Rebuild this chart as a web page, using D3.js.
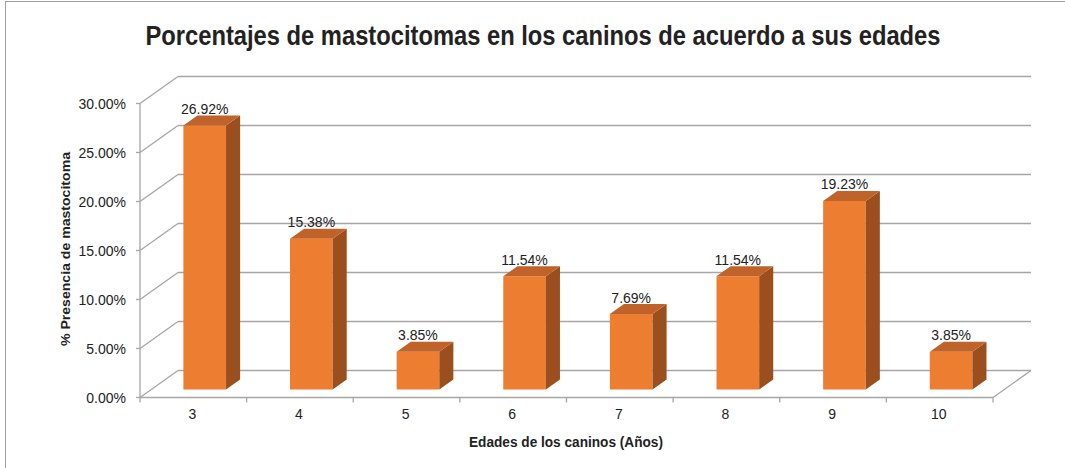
<!DOCTYPE html>
<html>
<head>
<meta charset="utf-8">
<script src="https://cdn.jsdelivr.net/npm/d3@7"></script>
<style>
  html, body { margin: 0; padding: 0; background: #fff; }
  svg { display: block; }
  text { font-family: "Liberation Sans", "Noto Sans", sans-serif; fill: #222; }
</style>
</head>
<body>
<svg id="chart" width="1065" height="468"></svg>
<script>
const categories = ["3", "4", "5", "6", "7", "8", "9", "10"];
const values = [26.92, 15.38, 3.85, 11.54, 7.69, 11.54, 19.23, 3.85];
const yTicks = [0, 5, 10, 15, 20, 25, 30];
const title = "Porcentajes de mastocitomas en los caninos de acuerdo a sus edades";
const yTitle = "% Presencia de mastocitoma";
const xTitle = "Edades de los caninos (Años)";

(function () {
const svg = d3.select("#chart");
const W = 1065, H = 468;

// chart border
svg.append("rect").attr("x", 5.5).attr("y", 1.5).attr("width", W + 10).attr("height", H + 10)
  .attr("fill", "#fff").attr("stroke", "#a0a0a0").attr("stroke-width", 1);

// plot geometry
const x0 = 140, x1 = 993;
const DX = 38, DY = -27;           // depth vector (front -> back wall)
const fFront = 0.3, fBack = 0.67;  // bar depth positions as fraction of depth

const x = d3.scaleBand().domain(categories).range([x0, x1]).paddingInner(0).paddingOuter(0);
const y = d3.scaleLinear().domain([0, 30]).range([397.5, 103.5]);

const gridColor = "#a6a6a6";
const g = svg.append("g");

// gridlines: slant on left wall + horizontal on back wall
yTicks.forEach(v => {
  const yy = y(v);
  g.append("line").attr("x1", x0).attr("y1", yy).attr("x2", x0 + DX).attr("y2", yy + DY)
    .attr("stroke", gridColor).attr("stroke-width", 1.3);
  g.append("line").attr("x1", x0 + DX).attr("y1", yy + DY).attr("x2", x1 + DX).attr("y2", yy + DY)
    .attr("stroke", gridColor).attr("stroke-width", 1.3);
});

// floor front edge and right edge
g.append("line").attr("x1", x0).attr("y1", y(0)).attr("x2", x1).attr("y2", y(0))
  .attr("stroke", gridColor).attr("stroke-width", 1.3);
g.append("line").attr("x1", x1).attr("y1", y(0)).attr("x2", x1 + DX).attr("y2", y(0) + DY)
  .attr("stroke", gridColor).attr("stroke-width", 1.3);

// y axis line and ticks
g.append("line").attr("x1", x0).attr("y1", y(0)).attr("x2", x0).attr("y2", y(30))
  .attr("stroke", gridColor).attr("stroke-width", 1.3);
yTicks.forEach(v => {
  g.append("line").attr("x1", x0 - 4).attr("y1", y(v)).attr("x2", x0).attr("y2", y(v))
    .attr("stroke", gridColor).attr("stroke-width", 1.3);
  g.append("text").attr("x", 126).attr("y", y(v) + 5).attr("text-anchor", "end")
    .attr("font-size", 14).text(v.toFixed(2) + "%");
});

// x axis ticks at band boundaries
const bounds = categories.map(c => x(c)).concat([x1]);
bounds.forEach(bx => {
  g.append("line").attr("x1", bx).attr("y1", y(0)).attr("x2", bx).attr("y2", y(0) + 5)
    .attr("stroke", gridColor).attr("stroke-width", 1.3);
});
categories.forEach(c => {
  g.append("text").attr("x", x(c) + x.bandwidth() / 2 - 1).attr("y", 419)
    .attr("text-anchor", "middle").attr("font-size", 14).text(c);
});

// bars
const bw = x.bandwidth() * 0.4;
const frontCol = "#ED7D31", sideCol = "#9C4F1E", topCol = "#C0632A";
const bars = svg.append("g");
categories.forEach((c, i) => {
  const v = values[i];
  const cx = x(c) + x.bandwidth() / 2 + fFront * DX;
  const bx0 = cx - bw / 2, bx1 = cx + bw / 2;
  const yb = y(0) + fFront * DY, yt = y(v) + fFront * DY;
  const ddx = (fBack - fFront) * DX, ddy = (fBack - fFront) * DY;
  bars.append("path").attr("d", `M${bx0},${yb}L${bx1},${yb}L${bx1},${yt}L${bx0},${yt}Z`).attr("fill", frontCol);
  bars.append("path").attr("d", `M${bx1},${yb}L${bx1 + ddx},${yb + ddy}L${bx1 + ddx},${yt + ddy}L${bx1},${yt}Z`).attr("fill", sideCol);
  bars.append("path").attr("d", `M${bx0},${yt}L${bx1},${yt}L${bx1 + ddx},${yt + ddy}L${bx0 + ddx},${yt + ddy}Z`).attr("fill", topCol);
  bars.append("text").attr("x", cx).attr("y", yt + ddy - 1.5).attr("text-anchor", "middle")
    .attr("font-size", 14).text(v.toFixed(2) + "%");
});

// titles
svg.append("text").attr("x", 543).attr("y", 45).attr("text-anchor", "middle")
  .attr("font-size", 27).attr("font-weight", "bold").attr("fill", "#000")
  .attr("textLength", 795).attr("lengthAdjust", "spacingAndGlyphs").text(title);
svg.append("text").attr("transform", "translate(70,249) rotate(-90)").attr("text-anchor", "middle")
  .attr("font-size", 13.5).attr("font-weight", "bold")
  .attr("textLength", 194).attr("lengthAdjust", "spacingAndGlyphs").text(yTitle);
svg.append("text").attr("x", 566).attr("y", 447).attr("text-anchor", "middle")
  .attr("font-size", 14).attr("font-weight", "bold")
  .attr("textLength", 194).attr("lengthAdjust", "spacingAndGlyphs").text(xTitle);
})();
</script>
</body>
</html>
